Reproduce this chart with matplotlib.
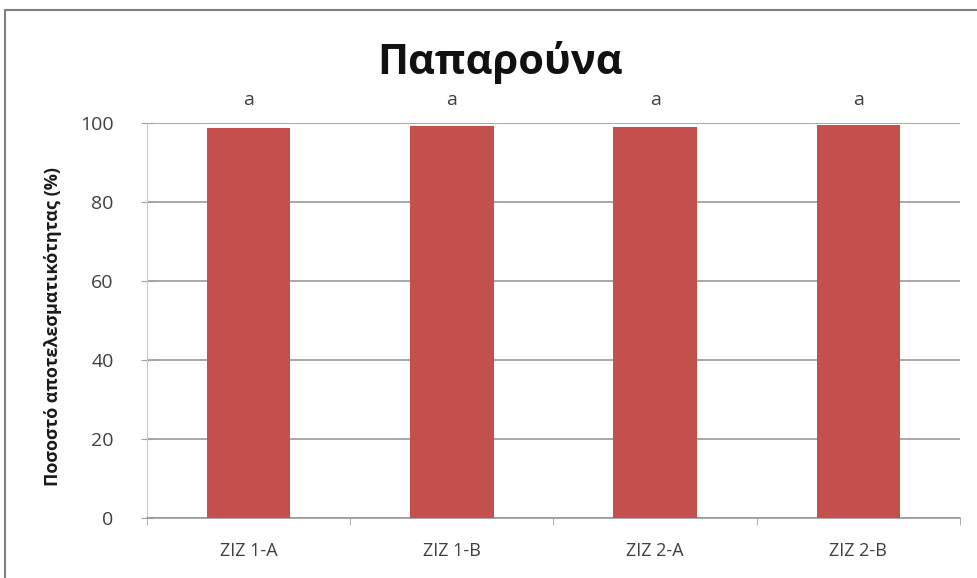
import matplotlib
matplotlib.use("Agg")
import matplotlib.pyplot as plt
from matplotlib.patches import Rectangle

categories = ["ZIZ 1-A", "ZIZ 1-B", "ZIZ 2-A", "ZIZ 2-B"]
efficacy = [98.7, 99.3, 99.0, 99.4]
letters = ["a", "a", "a", "a"]
yticks = [0, 20, 40, 60, 80, 100]

plt.rcParams["font.family"] = ["Open Sans", "DejaVu Sans"]

W, H = 978, 578
fig = plt.figure(figsize=(W / 100, H / 100), dpi=100)
left, right, bottom, top = 147, 960, 518, 123
ax = fig.add_axes([left / W, 1 - bottom / H, (right - left) / W, (bottom - top) / H])

x = list(range(len(categories)))
ax.bar(x, efficacy, width=0.41, color="#C4504D", zorder=3)
for xi, v, lab in zip(x, efficacy, letters):
    ax.text(xi, 103.5, lab, ha="center", va="bottom", fontsize=14, color="#404040")

ax.set_xlim(-0.5, len(categories) - 0.5)
ax.set_ylim(0, 100)
ax.set_yticks(yticks)
ax.set_yticklabels([str(t) for t in yticks], fontsize=14, color="#404040")
ax.set_xticks(x)
ax.set_xticklabels(categories, fontsize=13, color="#404040")
ax.tick_params(axis="x", length=0, pad=17)
ax.tick_params(axis="y", length=8, direction="inout", color="#A0A0A0", pad=20)
ax.set_xticks([i - 0.5 for i in range(len(categories) + 1)], minor=True)
ax.tick_params(axis="x", which="minor", length=5, color="#A0A0A0", direction="out")

ax.grid(axis="y", color="#9A9A9A", linewidth=1.2, zorder=0)
ax.set_axisbelow(True)
for s in ["top", "right"]:
    ax.spines[s].set_visible(False)
ax.spines["left"].set_color("#C8C8C8")
ax.spines["bottom"].set_color("#9A9A9A")
ax.spines["bottom"].set_linewidth(1.2)

fig.text(53 / W, 1 - 327 / H, "Ποσοστό αποτελεσματικότητας (%)", rotation=90,
         ha="center", va="center", fontsize=13, fontweight="bold", color="#1A1A1A")
fig.text(500 / W, 1 - 63 / H, "Παπαρούνα", ha="center", va="center",
         fontsize=30, fontweight="bold", color="#111111")

fig.patches.append(Rectangle((5 / W, -0.01), 1.02, 1 - 10 / H + 0.01,
                             transform=fig.transFigure, fill=False,
                             edgecolor="#808080", linewidth=1.5))

fig.savefig("out.png", dpi=100)
